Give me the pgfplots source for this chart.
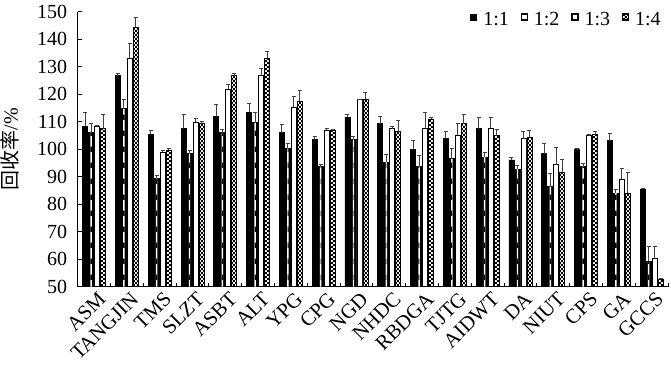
\documentclass[border=0pt]{standalone}
\usepackage{fontspec}
\setmainfont{Liberation Serif}
\newfontfamily\cjk{Noto Sans CJK SC}
\usepackage{pgfplots}
\pgfplotsset{compat=1.18}
\usepackage{pgfplotstable}
\usetikzlibrary{patterns}

\pgfdeclarepatternformonly{hstripe}{\pgfqpoint{0pt}{0pt}}{\pgfqpoint{2pt}{12pt}}{\pgfqpoint{2pt}{12pt}}{\pgfpathrectangle{\pgfqpoint{0pt}{0pt}}{\pgfqpoint{2pt}{4pt}}\pgfusepath{fill}}
\pgfdeclarepatternformonly{checker}{\pgfqpoint{0pt}{0pt}}{\pgfqpoint{3pt}{3pt}}{\pgfqpoint{3pt}{3pt}}{\pgfpathrectangle{\pgfqpoint{0pt}{0pt}}{\pgfqpoint{1.5pt}{1.5pt}}\pgfpathrectangle{\pgfqpoint{1.5pt}{1.5pt}}{\pgfqpoint{1.5pt}{1.5pt}}\pgfusepath{fill}}

\pgfplotstableread{
x a ea b eb c ec d ed
0 108.4 5.0 106.0 3.3 108.2 0.3 107.5 5.0
1 126.7 0.9 114.7 3.3 133.0 5.4 144.3 3.5
2 105.4 1.5 89.4 1.0 99.0 0.6 99.6 0.6
3 107.5 5.0 98.4 1.2 109.9 1.4 109.3 0.9
4 111.9 4.5 106.0 1.1 121.9 1.5 126.7 0.9
5 113.5 3.2 109.6 3.9 126.7 2.5 133.0 2.5
6 106.0 2.9 100.2 1.8 115.3 4.0 117.5 3.8
7 103.4 1.4 93.6 0.9 106.9 0.8 106.7 0.5
8 111.6 1.0 103.5 1.2 118.0 0.2 118.2 2.5
9 109.3 2.7 95.3 2.9 107.5 0.8 106.3 4.1
10 100.0 3.1 93.7 3.9 107.7 5.5 111.0 0.4
11 103.8 2.5 96.5 3.9 105.0 4.5 109.3 3.2
12 107.5 4.2 97.1 1.8 107.7 3.9 104.9 2.2
13 96.1 1.0 92.8 1.1 103.8 2.5 104.3 2.4
14 98.3 3.7 86.4 4.9 94.3 6.5 91.5 4.9
15 99.8 0.6 93.7 1.2 104.9 0.3 105.3 1.2
16 103.1 2.5 84.0 1.5 89.1 4.0 84.0 7.5
17 85.4 0.4 59.3 5.5 60.2 4.3 52.7 0.3
}\data

\newcommand{\fs}{\fontsize{15}{18}\selectfont}

\begin{document}
\begin{tikzpicture}
\useasboundingbox (-58.3pt,-66.8pt) rectangle (445pt,215.05pt);
\begin{axis}[
  scale only axis, width=442.8pt, height=206.25pt,
  xmin=-0.5, xmax=17.5, ymin=50, ymax=150,
  axis x line=bottom, axis y line=left,
  axis line style={-, line width=0.75pt},
  ybar=0.75pt, bar width=3.75pt,
  xtick={0,...,17},
  xticklabels={ASM,TANGJIN,TMS,SLZT,ASBT,ALT,YPG,CPG,NGD,NHDC,RBDGA,TJTG,AIDWT,DA,NIUT,CPS,GA,GCCS},
  major x tick style={draw=none},
  minor xtick={-0.5,0.5,...,17.5},
  minor tick length=3pt, major tick length=3pt,
  tick align=inside,
  tick style={black, line width=0.75pt},
  ytick={50,60,...,150},
  /pgf/number format/assume math mode=true,
  tick label style={font=\fs},
  yticklabel style={xshift=-4.5pt},
  xticklabel style={rotate=45, anchor=east, xshift=3pt, yshift=-9pt, font=\fontsize{15.5}{18}\selectfont},
  every axis y label/.style={at={(axis description cs:-0.1147,0.5)}, anchor=center, rotate=90, font=\fs},
  ylabel={{\cjk 回收率}/\%},
  error bars/y dir=plus, error bars/y explicit,
  error bars/error bar style={line width=0.75pt, black!75},
  error bars/error mark options={rotate=90, mark size=1.5pt, line width=0.75pt, black!75},
  legend columns=4,
  legend style={draw=none, fill=none, at={(0.997,0.97)}, anchor=east, font=\fs,
    nodes={inner sep=1pt},
    /tikz/every even column/.append style={column sep=8pt},
    /tikz/every odd column/.append style={column sep=3.5pt}},
]
\addplot[bar shift=-6.75pt, fill=black, draw=black, line width=0.6pt,
  legend image code/.code={\fill[black] (0pt,0pt) rectangle (4.5pt,4.5pt);}]
  table[x=x, y=a, y error=ea] {\data};
\addlegendentry{1:1}
\addplot[bar shift=-2.25pt, fill=black, draw=black, line width=0.6pt,
  legend image code/.code={\draw[black, fill=white, line width=0.8pt] (0pt,0pt) rectangle (4.5pt,4.5pt);}]
  table[x=x, y=b, y error=eb] {\data};
\addlegendentry{1:2}
\addplot[bar shift=2.25pt, fill=white, draw=black, line width=0.6pt,
  legend image code/.code={\draw[black, fill=white, line width=0.8pt] (0pt,0pt) rectangle (4.5pt,4.5pt);}]
  table[x=x, y=c, y error=ec] {\data};
\addlegendentry{1:3}
\addplot[bar shift=6.75pt, fill=white, draw=black, line width=0.6pt, postaction={pattern=checker, pattern color=black},
  legend image code/.code={\draw[black, fill=white, line width=0.8pt, postaction={pattern=checker}] (0pt,0pt) rectangle (4.5pt,4.5pt);}]
  table[x=x, y=d, y error=ed] {\data};
\addlegendentry{1:4}
\addplot[forget plot, bar shift=-2.25pt, bar width=1.1pt, draw=none, fill=white,
  postaction={pattern=hstripe, pattern color=black}, error bars/y dir=none]
  table[x=x, y=b] {\data};
\end{axis}
\end{tikzpicture}
\end{document}
